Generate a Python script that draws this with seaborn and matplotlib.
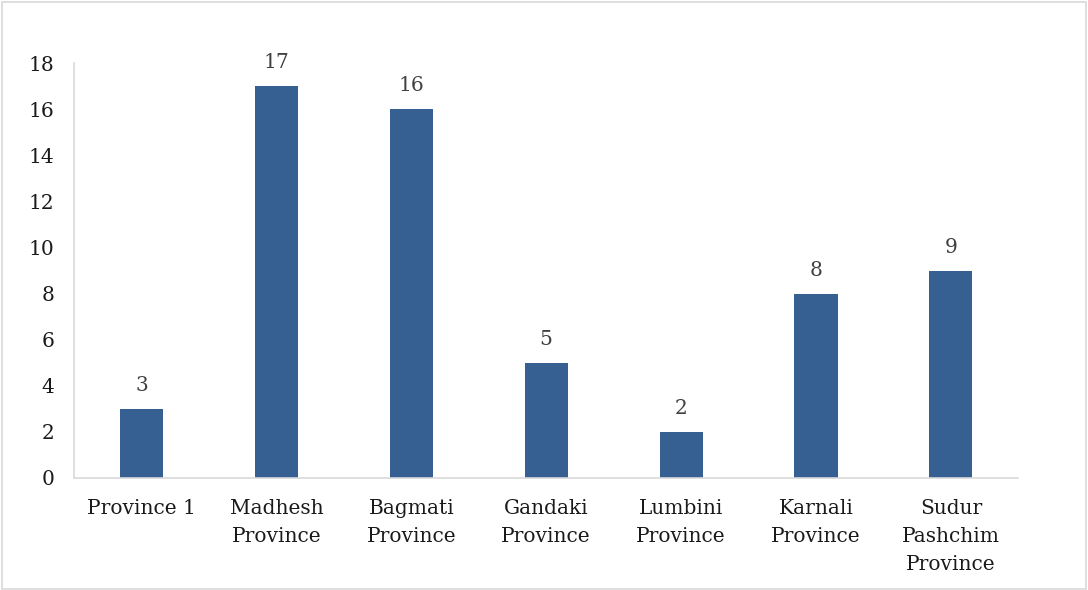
import matplotlib
matplotlib.use("Agg")
import matplotlib.pyplot as plt
import seaborn as sns
import pandas as pd
from matplotlib.patches import Rectangle

categories = ["Province 1", "Madhesh\nProvince", "Bagmati\nProvince", "Gandaki\nProvince",
              "Lumbini\nProvince", "Karnali\nProvince", "Sudur\nPashchim\nProvince"]
values = [3, 17, 16, 5, 2, 8, 9]
yticks = [0, 2, 4, 6, 8, 10, 12, 14, 16, 18]

sns.set_theme(style="white")
plt.rcParams['font.family'] = ['DejaVu Serif']

df = pd.DataFrame({"cat": categories, "val": values})

fig = plt.figure(figsize=(10.88, 5.90), dpi=100)
ax = fig.add_axes([0.068, 0.19, 0.868, 0.703])
sns.barplot(data=df, x="cat", y="val", color="#376092", width=0.32, ax=ax,
            saturation=1, linewidth=0)

for i, v in enumerate(values):
    ax.annotate(str(v), (i, v), xytext=(0, 10), textcoords="offset points",
                ha="center", va="bottom", fontsize=14.5, color="#404040")

ax.set_ylim(0, 18)
ax.set_yticks(yticks)
ax.set_xlim(-0.5, len(categories) - 0.5)
ax.set_xlabel("")
ax.set_ylabel("")
ax.tick_params(axis="y", labelsize=14.5, length=0, pad=14)
ax.tick_params(axis="x", labelsize=14.5, length=0, pad=15)
for lab in ax.get_yticklabels():
    lab.set_color("#1a1a1a")
for lab in ax.get_xticklabels():
    lab.set_color("#1a1a1a")
    lab.set_linespacing(1.6)
    lab.set_verticalalignment("top")
for s in ["top", "right"]:
    ax.spines[s].set_visible(False)
for s in ["left", "bottom"]:
    ax.spines[s].set_color("#d9d9d9")
    ax.spines[s].set_linewidth(1.2)

fig.patches.append(Rectangle((0.002, 0.002), 0.996, 0.994, transform=fig.transFigure,
                             fill=False, edgecolor="#d9d9d9", linewidth=1.2))

fig.savefig("out.png", dpi=100)
